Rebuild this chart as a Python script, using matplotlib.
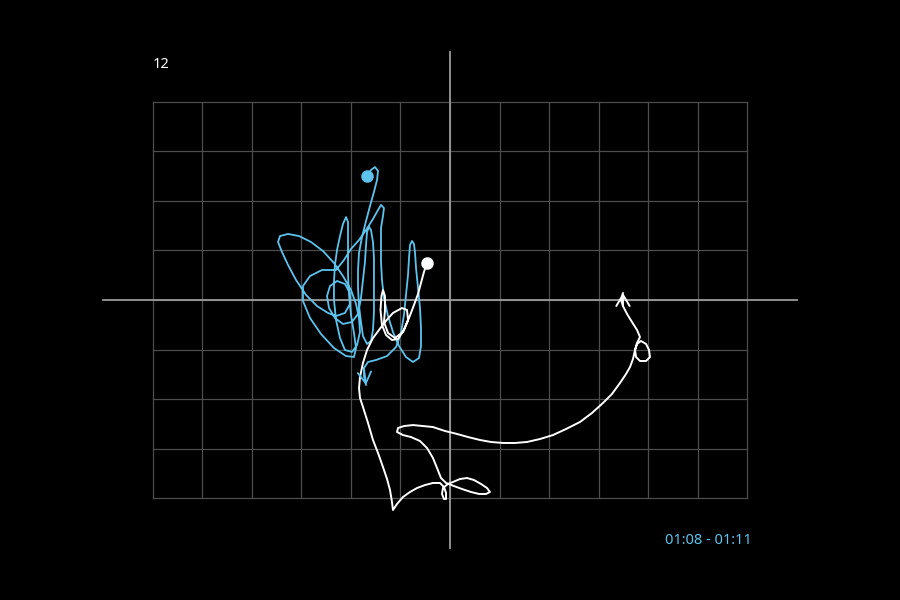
import matplotlib
matplotlib.use("Agg")
import matplotlib.pyplot as plt

# grid cell = 50 units, x -300..300, y -200..200
grid_x = list(range(-300, 301, 50))
grid_y = list(range(-200, 201, 50))

label_id = "12"
label_time = "01:08 - 01:11"

blue_x = [-83.8, -79.8, -75.8, -72.7, -73.7, -76.8, -80.8, -84.8, -88.9, -91.9, -92.9, -92.9,
          -91.9, -89.9, -87.9, -83.8, -79.8, -77.8, -76.8, -76.8, -76.8, -76.8, -77.8, -79.8,
          -81.8, -83.8, -84.8, -85.9, -87.9, -89.9, -92.9, -99.0, -108.1,
          -116.2, -122.2, -124.2, -121.2, -114.1, -106.1, -101.0, -101.0, -106.1, -115.1, -123.2,
          -134.3, -145.4, -155.5, -163.6, -169.7, -173.7, -171.7, -163.6, -152.5, -140.4, -128.3,
          -117.2, -108.1, -100.0, -94.9, -91.9, -90.9, -93.9, -99.0, -106.1, -111.1, -115.1,
          -117.2, -117.2, -116.2, -114.1, -111.1, -108.1, -105.0, -103.0, -103.0, -103.0, -103.0,
          -102.0, -100.0, -97.0, -94.9, -97.0,
          -105.0, -117.2, -130.3, -141.4, -148.5, -148.5, -141.4, -129.3, -115.1,
          -107.1, -100.0, -91.9, -84.8, -77.8, -72.7, -69.7, -66.7, -67.7, -69.7, -69.7, -69.7,
          -68.7, -66.7, -62.6, -57.6, -51.5, -44.4, -37.4, -31.3, -29.3, -29.3, -30.3, -32.3,
          -34.3, -35.4, -36.4, -38.4, -40.4, -41.4, -42.4, -44.4, -46.5, -49.5, -54.5, -63.6,
          -74.7, -82.8,
          -86.9, -86.9, -84.8]
blue_y = [125.2, 131.3, 134.3, 130.3, 121.2, 109.1, 94.9, 79.8, 63.6, 47.5, 30.3, 12.1,
          -6.1, -22.2, -36.4, -44.4, -41.4, -30.3, -12.1, 6.1, 24.2, 42.4, 58.6, 70.7,
          73.7, 68.7, 55.6, 38.4, 20.2, 2.0, -14.1, -22.2, -24.2,
          -18.2, -8.1, 4.0, 14.1, 19.2, 16.2, 7.1, -4.0, -13.1, -16.2, -13.1,
          -6.1, 5.1, 20.2, 35.4, 48.5, 58.6, 64.6, 66.7, 64.6, 58.6, 49.5,
          37.4, 24.2, 10.1, -4.0, -18.2, -32.3, -45.5, -52.5, -50.5, -38.4, -20.2,
          0.0, 18.2, 35.4, 50.5, 64.6, 76.8, 83.8, 78.8, 62.6, 44.4, 25.3,
          5.1, -15.2, -33.3, -48.5, -57.6,
          -56.6, -48.5, -34.3, -18.2, -1.0, 14.1, 24.2, 30.3, 30.3,
          40.4, 51.5, 60.6, 70.7, 81.8, 90.9, 96.0, 92.9, 84.8, 72.7, 55.6, 38.4,
          20.2, 2.0, -16.2, -32.3, -46.5, -57.6, -62.6, -58.6, -46.5, -28.3, -8.1, 12.1,
          32.3, 48.5, 56.6, 59.6, 55.6, 42.4, 25.3, 5.1, -15.2, -33.3, -47.5, -56.6,
          -60.6, -62.6,
          -68.7, -76.8, -85.9]

white_x = [-23.2, -26.3, -29.3, -32.3, -36.4, -41.4, -46.5, -52.5, -58.6, -64.6, -68.7, -70.2,
           -69.2, -67.7, -65.7, -65.7, -66.7, -62.6, -55.6, -47.5, -42.4, -43.4, -48.5, -57.6,
           -65.7, -71.7, -77.8, -83.8, -87.9, -90.9, -91.9, -90.9, -87.9, -82.8, -77.8, -72.7,
           -67.7, -63.6, -60.6, -58.6, -57.6,
           -53.5, -47.5, -40.4, -33.3, -25.3, -17.2, -10.1,
           -6.1, -4.0, -4.0, -6.1, -8.1, -7.1, -2.0, 3.0,
           10.1, 17.2, 24.2, 31.3, 37.4, 40.4, 36.4, 29.3, 21.2, 12.1, 4.0, -4.0, -9.1, -13.1,
           -17.2, -23.2, -30.3, -39.4, -47.5, -53.5, -52.5, -46.5, -37.4, -27.3, -17.2, -5.1,
           7.1, 18.2, 30.3, 41.4, 53.5, 65.7, 77.8, 90.9, 104.0, 117.2, 131.3, 143.4, 154.5,
           163.6, 171.7, 177.8, 181.8, 184.8, 186.9, 188.9, 192.9, 198.0, 201.0, 202.0, 198.0,
           191.9, 187.9, 186.9, 188.9, 191.9, 188.9, 183.8, 178.8, 174.7, 172.7, 174.7]
white_y = [37.4, 28.3, 17.2, 6.1, -5.1, -18.2, -30.3, -39.4, -40.4, -35.4, -25.3, -10.1,
           4.0, 10.1, 4.0, -11.1, -22.2, -33.3, -38.4, -32.3, -20.2, -10.1, -8.1, -13.1,
           -22.2, -30.3, -38.4, -50.5, -63.6, -77.8, -88.9, -99.0, -108.1, -124.2, -141.4, -154.5,
           -168.7, -180.8, -191.9, -204.0, -212.1,
           -206.0, -199.0, -193.9, -189.9, -186.9, -184.8, -184.8,
           -188.9, -194.9, -201.0, -201.0, -195.9, -189.9, -185.8, -183.8,
           -180.8, -179.8, -181.8, -185.8, -189.9, -193.9, -195.9, -195.9, -193.9, -190.9, -187.9,
           -184.8, -179.8, -169.7,
           -159.6, -149.5, -142.4, -138.4, -136.4, -133.3, -129.3, -127.3, -126.3, -127.3, -128.3,
           -132.3,
           -135.3, -138.4, -141.4, -143.4, -144.4, -144.4, -143.4, -140.4, -136.4, -130.3, -123.2,
           -114.1, -104.0,
           -94.9, -83.8, -74.7, -67.7, -59.6, -50.5, -44.4, -41.4, -44.4, -50.5, -57.6, -61.6,
           -61.6, -57.6, -50.5, -43.4, -37.4, -30.3, -22.2, -14.1, -6.1, 0.0, 7.1]

BLUE = "#5cc3ee"
WHITE = "#ffffff"

fig = plt.figure(figsize=(9, 6), dpi=100, facecolor="black")
ax = fig.add_axes([0, 0, 1, 1])
ax.set_facecolor("black")
ax.set_xlim(-454.5, 454.5)
ax.set_ylim(-303, 303)
ax.axis("off")

# grid
for gx in grid_x:
    ax.plot([gx, gx], [grid_y[0], grid_y[-1]], color="#4d4d4d", lw=0.9, zorder=1)
for gy in grid_y:
    ax.plot([grid_x[0], grid_x[-1]], [gy, gy], color="#4d4d4d", lw=0.9, zorder=1)

# main axes
ax.plot([-350, 350], [0, 0], color="#9a9a9a", lw=1.3, zorder=2)
ax.plot([0, 0], [-250, 250], color="#9a9a9a", lw=1.3, zorder=2)

# trajectories
ax.plot(blue_x, blue_y, color=BLUE, lw=1.3, solid_capstyle="round",
        solid_joinstyle="round", zorder=3)
ax.plot(white_x, white_y, color=WHITE, lw=1.4, solid_capstyle="round",
        solid_joinstyle="round", zorder=4)

# start dots
ax.plot(blue_x[0], blue_y[0], "o", color=BLUE, ms=8, zorder=5)
ax.plot(white_x[0], white_y[0], "o", color=WHITE, ms=8, zorder=5)

# end arrows
ax.annotate("", xy=(blue_x[-1], blue_y[-1]), xytext=(blue_x[-3], blue_y[-3]),
            arrowprops=dict(arrowstyle="->,head_length=0.5,head_width=0.3", color=BLUE,
                            lw=1.3, mutation_scale=16, shrinkA=0, shrinkB=0), zorder=5)
ax.annotate("", xy=(white_x[-1], white_y[-1]), xytext=(white_x[-3], white_y[-3]),
            arrowprops=dict(arrowstyle="->,head_length=0.5,head_width=0.3", color=WHITE,
                            lw=1.4, mutation_scale=16, shrinkA=0, shrinkB=0), zorder=5)

fig.text(153 / 900, 1 - 65 / 600, label_id, color="white", fontsize=10.5,
         family="Noto Sans", va="center", ha="left")
fig.text(708 / 900, 1 - 541 / 600, label_time, color=BLUE, fontsize=10.5,
         family="Noto Sans", va="center", ha="center")

fig.savefig("out.png", dpi=100, facecolor="black")
